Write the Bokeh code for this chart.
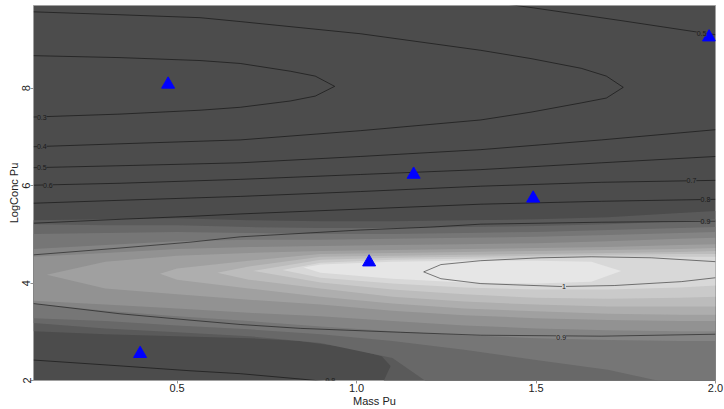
from bokeh.plotting import figure
from bokeh.models import Range1d, Label, FixedTicker
from bokeh.embed import file_html
from bokeh.resources import INLINE

# ---------------- data ----------------
# observed points (blue triangles)
mass_pu = [0.475, 1.982, 1.159, 1.492, 1.035, 0.397]
logconc_pu = [8.08, 9.05, 6.23, 5.74, 4.43, 2.55]

x_ticks = [0.5, 1.0, 1.5, 2.0]
x_tick_labels = ["0.5", "1.0", "1.5", "2.0"]
y_ticks = [2, 4, 6, 8]
y_tick_labels = ["2", "4", "6", "8"]
x_lo, x_hi = 0.1, 2.0
y_lo, y_hi = 2.0, 9.7

# shaded (image) levels: boundaries of each grey band, read column by column
shade_x = [0.10, 0.30, 0.50, 0.70, 0.90, 1.10, 1.30, 1.50, 1.70, 1.90, 2.00]

band2_top = [5.29, 5.31, 5.33, 5.29, 5.27, 5.27, 5.29, 5.31, 5.35, 5.44, 5.48]
band2_bot_x = [0.10, 0.30, 0.50, 0.70, 0.84, 0.98, 1.07, 1.095, 1.07, 2.00]
band2_bot = [3.01, 2.95, 2.91, 2.87, 2.81, 2.67, 2.50, 2.30, 1.90, 1.90]

band3_top = [5.21, 5.19, 5.19, 5.15, 5.13, 5.13, 5.15, 5.17, 5.21, 5.27, 5.31]
band3_bot_x = [0.10, 0.30, 0.50, 0.70, 0.90, 1.10, 1.21, 2.00]
band3_bot = [3.18, 3.07, 2.99, 2.91, 2.77, 2.46, 1.90, 1.90]

band4_top = [5.01, 5.03, 5.05, 5.03, 5.01, 5.01, 5.03, 5.05, 5.09, 5.13, 5.15]
band4_bot = [3.28, 3.22, 3.13, 3.05, 2.95, 2.81, 2.63, 2.42, 2.22, 1.90, 1.90]

band5_top = [4.70, 4.78, 4.86, 4.89, 4.89, 4.91, 4.93, 4.95, 4.99, 5.03, 5.05]
band5_bot = [3.58, 3.43, 3.32, 3.22, 3.11, 3.01, 2.93, 2.87, 2.83, 2.81, 2.81]

band6_top = [4.54, 4.62, 4.70, 4.74, 4.76, 4.78, 4.80, 4.82, 4.86, 4.91, 4.93]
band6_bot = [3.64, 3.56, 3.48, 3.39, 3.32, 3.22, 3.13, 3.07, 3.03, 3.01, 3.01]

band7_x = [0.137, 0.30, 0.50, 0.70, 0.90, 1.10, 1.30, 1.50, 1.70, 1.90, 2.00]
band7_top = [4.17, 4.44, 4.56, 4.62, 4.66, 4.68, 4.70, 4.72, 4.74, 4.78, 4.80]
band7_bot = [4.17, 3.89, 3.77, 3.66, 3.56, 3.43, 3.34, 3.28, 3.24, 3.22, 3.22]

band8_x = [0.4525, 0.50, 0.70, 0.90, 1.10, 1.30, 1.50, 1.70, 1.90, 2.00]
band8_top = [4.19, 4.30, 4.46, 4.60, 4.62, 4.64, 4.66, 4.68, 4.70, 4.72]
band8_bot = [4.19, 4.07, 3.89, 3.72, 3.58, 3.48, 3.42, 3.37, 3.35, 3.35]

band9_x = [0.612, 0.70, 0.90, 1.10, 1.30, 1.50, 1.70, 1.90, 2.00]
band9_top = [4.21, 4.34, 4.54, 4.56, 4.58, 4.60, 4.62, 4.64, 4.66]
band9_bot = [4.21, 4.07, 3.89, 3.72, 3.62, 3.56, 3.52, 3.52, 3.52]

band10_x = [0.712, 0.90, 1.10, 1.30, 1.50, 1.70, 1.90, 2.00]
band10_top = [4.25, 4.48, 4.52, 4.54, 4.56, 4.58, 4.60, 4.60]
band10_bot = [4.25, 4.01, 3.87, 3.77, 3.70, 3.68, 3.70, 3.72]

band11_x = [0.793, 0.90, 1.10, 1.30, 1.50, 1.70, 1.90, 2.00]
band11_top = [4.27, 4.42, 4.48, 4.50, 4.52, 4.54, 4.54, 4.54]
band11_bot = [4.27, 4.11, 3.99, 3.91, 3.87, 3.87, 3.91, 3.95]

band12_x = [0.852, 0.90, 1.10, 1.30, 1.50, 1.654, 1.737]
band12_top = [4.32, 4.38, 4.44, 4.46, 4.46, 4.44, 4.25]
band12_bot = [4.32, 4.21, 4.09, 4.01, 3.99, 4.03, 4.25]

# contour lines (level -> traced line)
c03_x = [0.10, 0.341, 0.564, 0.676, 0.816, 0.885, 0.939, 0.885, 0.816, 0.676, 0.564, 0.341, 0.10]
c03_y = [8.67, 8.63, 8.57, 8.51, 8.35, 8.25, 8.04, 7.84, 7.74, 7.61, 7.55, 7.47, 7.41]

c04_x = [0.10, 0.341, 0.564, 0.676, 1.011, 1.346, 1.486, 1.626, 1.696, 1.743,
         1.696, 1.626, 1.486, 1.346, 1.011, 0.676, 0.341, 0.10]
c04_y = [9.57, 9.51, 9.45, 9.37, 9.12, 8.78, 8.61, 8.41, 8.25, 8.02,
         7.80, 7.70, 7.51, 7.35, 7.13, 6.94, 6.86, 6.80]

c05a_x = [1.10, 1.494, 1.737, 1.980, 2.0]
c05a_y = [10.05, 9.65, 9.39, 9.12, 9.10]
c05b_x = [2.0, 1.682, 1.346, 1.011, 0.676, 0.341, 0.10]
c05b_y = [7.15, 6.94, 6.74, 6.60, 6.47, 6.41, 6.37]

c06_x = [0.10, 0.341, 0.676, 1.011, 1.346, 1.682, 2.0]
c06_y = [6.01, 6.05, 6.13, 6.23, 6.33, 6.47, 6.60]

c07_x = [0.10, 0.341, 0.676, 1.011, 1.346, 1.682, 2.0]
c07_y = [5.64, 5.70, 5.78, 5.88, 5.99, 6.07, 6.11]

c08a_x = [0.10, 0.341, 0.536, 0.676, 1.011, 1.346, 1.682, 2.0]
c08a_y = [5.23, 5.31, 5.37, 5.42, 5.52, 5.62, 5.68, 5.72]
c08b_x = [0.10, 0.341, 0.536, 0.676, 0.844, 0.955]
c08b_y = [2.42, 2.30, 2.20, 2.14, 2.03, 1.95]

c09a_x = [0.10, 0.341, 0.536, 0.676, 1.011, 1.207, 1.346, 1.682, 2.0]
c09a_y = [4.58, 4.72, 4.84, 4.95, 5.09, 5.15, 5.21, 5.25, 5.27]
c09b_x = [0.10, 0.341, 0.536, 0.676, 0.844, 1.123, 1.346, 1.682, 2.0]
c09b_y = [3.58, 3.37, 3.24, 3.15, 3.07, 2.99, 2.93, 2.91, 2.95]

c10_x = [2.0, 1.821, 1.654, 1.514, 1.346, 1.235, 1.187, 1.235, 1.346, 1.570, 1.718, 1.905, 2.0]
c10_y = [4.44, 4.52, 4.54, 4.52, 4.46, 4.38, 4.23, 4.09, 3.99, 3.93, 3.95, 4.03, 4.11]

# contour labels
lab_text = ["0.3", "0.4", "0.5", "0.6", "0.7", "0.8", "0.9", "1", "0.9", "0.8", "0.5"]
lab_x = [0.123, 0.123, 0.123, 0.14, 1.933, 1.972, 1.972, 1.578, 1.570, 0.927, 1.961]
lab_y = [7.41, 6.80, 6.37, 6.01, 6.11, 5.72, 5.27, 3.93, 2.89, 2.01, 9.12]
lab_bg = ["#4c4c4c", "#4c4c4c", "#4c4c4c", "#4c4c4c", "#4c4c4c", "#4c4c4c",
          "#5a5a5a", "#d8d8d8", "#848484", "#4c4c4c", "#4c4c4c"]

# grey scale of the image levels (level 1 = background)
grey_levels = ["#4c4c4c", "#5a5a5a", "#686868", "#767676", "#848484", "#929292",
               "#a0a0a0", "#aeaeae", "#bcbcbc", "#cacaca", "#d8d8d8", "#e6e6e6"]

# ---------------- figure ----------------
FONT = "Liberation Sans"
p = figure(width=724, height=409,
           x_range=Range1d(x_lo, x_hi), y_range=Range1d(y_lo, y_hi),
           output_backend="svg", toolbar_location=None,
           min_border_left=33, min_border_right=9, min_border_top=5, min_border_bottom=0)
p.background_fill_color = grey_levels[0]
p.border_fill_color = "white"
p.outline_line_color = "#a0a0a0"
p.outline_line_width = 1
p.grid.visible = False

bands = [
    (shade_x, band2_top, band2_bot_x, band2_bot),
    (shade_x, band3_top, band3_bot_x, band3_bot),
    (shade_x, band4_top, shade_x, band4_bot),
    (shade_x, band5_top, shade_x, band5_bot),
    (shade_x, band6_top, shade_x, band6_bot),
    (band7_x, band7_top, band7_x, band7_bot),
    (band8_x, band8_top, band8_x, band8_bot),
    (band9_x, band9_top, band9_x, band9_bot),
    (band10_x, band10_top, band10_x, band10_bot),
    (band11_x, band11_top, band11_x, band11_bot),
    (band12_x, band12_top, band12_x, band12_bot),
]
pxs, pys = [], []
for ux, uy, lx, ly in bands:
    pxs.append(list(ux) + list(lx)[::-1])
    pys.append(list(uy) + list(ly)[::-1])
p.patches(pxs, pys, fill_color=grey_levels[1:], line_color=None)

lines_x = [c03_x, c04_x, c05a_x, c05b_x, c06_x, c07_x, c08a_x, c08b_x, c09a_x, c09b_x, c10_x]
lines_y = [c03_y, c04_y, c05a_y, c05b_y, c06_y, c07_y, c08a_y, c08b_y, c09a_y, c09b_y, c10_y]
p.multi_line(lines_x, lines_y, line_color="black", line_alpha=0.55, line_width=0.9)

for t, x, y, bg in zip(lab_text, lab_x, lab_y, lab_bg):
    p.add_layout(Label(x=x, y=y, text=t, text_font=FONT, text_font_size="7px",
                       text_align="center", text_baseline="middle",
                       text_color="#1a1a1a", background_fill_color=bg))

p.scatter(mass_pu, logconc_pu, marker="triangle", size=13,
          fill_color="blue", line_color="blue")

# axes
p.xaxis.ticker = FixedTicker(ticks=x_ticks)
p.yaxis.ticker = FixedTicker(ticks=y_ticks)
p.xaxis.major_label_overrides = dict(zip(x_ticks, x_tick_labels))
p.yaxis.major_label_overrides = dict(zip(y_ticks, y_tick_labels))
p.yaxis.major_label_orientation = "vertical"
p.xaxis.axis_label = "Mass Pu"
p.yaxis.axis_label = "LogConc Pu"
for ax in (p.xaxis, p.yaxis):
    ax.axis_line_color = None
    ax.major_tick_line_color = "#909090"
    ax.major_tick_out = 3
    ax.major_tick_in = 0
    ax.minor_tick_line_color = None
    ax.major_label_text_font = FONT
    ax.major_label_text_font_size = "11px"
    ax.major_label_text_color = "#222222"
    ax.major_label_standoff = 0
    ax.axis_label_text_font = FONT
    ax.axis_label_text_font_size = "11px"
    ax.axis_label_text_font_style = "normal"
    ax.axis_label_text_color = "#222222"
    ax.axis_label_standoff = 0

open("out.html", "w").write(file_html(p, INLINE))
